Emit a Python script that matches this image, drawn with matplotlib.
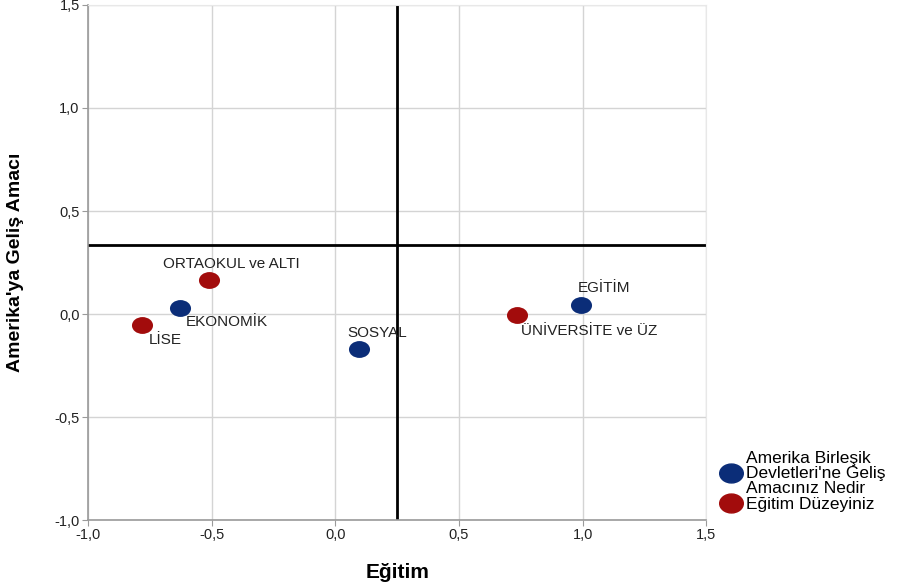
import matplotlib
matplotlib.use("Agg")
from matplotlib import pyplot as plt
from matplotlib.path import Path
from matplotlib.transforms import Affine2D
from matplotlib.lines import Line2D

plt.rcParams['font.family'] = ['Liberation Sans', 'DejaVu Sans']

# kategori noktalari
amac_labels = ["EKONOMİK", "SOSYAL", "EGİTİM"]
amac_x = [-0.627, 0.097, 0.995]
amac_y = [0.030, -0.170, 0.044]

egitim_labels = ["ORTAOKUL ve ALTI", "LİSE", "ÜNİVERSİTE ve ÜZ"]
egitim_x = [-0.510, -0.781, 0.736]
egitim_y = [0.165, -0.053, -0.005]

ref_x = 0.25
ref_y = 0.335

ticks = [-1.0, -0.5, 0.0, 0.5, 1.0, 1.5]
tick_labels = ["-1,0", "-0,5", "0,0", "0,5", "1,0", "1,5"]

blue = "#0b2d78"
red = "#a20c0c"

# oval isaret
ellipse = Path.unit_circle().transformed(Affine2D().scale(1.25, 1.0))

fig = plt.figure(figsize=(9.04, 5.85), dpi=100)
ax = fig.add_axes([0.0973, 0.111, 0.684, 0.8805])

ax.set_xlim(-1.0, 1.5)
ax.set_ylim(-1.0, 1.5)
ax.set_xticks(ticks)
ax.set_yticks(ticks)
ax.set_xticklabels(tick_labels, fontsize=10.5)
ax.set_yticklabels(tick_labels, fontsize=10.5)
ax.grid(True, color="#d4d4d4", linewidth=1)
ax.set_axisbelow(True)
for s in ["top", "right"]:
    ax.spines[s].set_color("#e8e8e8")
for s in ["left", "bottom"]:
    ax.spines[s].set_color("#9a9a9a")
    ax.spines[s].set_linewidth(1.2)
ax.tick_params(length=4, color="#9a9a9a", labelcolor="#222222", pad=2)

ax.axvline(ref_x, color="black", linewidth=2, zorder=2)
ax.axhline(ref_y, color="black", linewidth=2, zorder=2)

ax.scatter(amac_x, amac_y, s=230, marker=ellipse, color=blue, zorder=3, linewidths=0)
ax.scatter(egitim_x, egitim_y, s=230, marker=ellipse, color=red, zorder=3, linewidths=0)

# etiketler (piksel kaydirma)
offsets = {
    "EKONOMİK": (6, -14, "left"),
    "SOSYAL": (-12, 16, "left"),
    "EGİTİM": (-4, 17, "left"),
    "ORTAOKUL ve ALTI": (22, 16, "center"),
    "LİSE": (7, -15, "left"),
    "ÜNİVERSİTE ve ÜZ": (4, -16, "left"),
}
for lab, x, y in zip(amac_labels + egitim_labels, amac_x + egitim_x, amac_y + egitim_y):
    dx, dy, ha = offsets[lab]
    ax.annotate(lab, (x, y), xytext=(dx * 0.72, dy * 0.72), textcoords="offset points",
                ha=ha, va="center", fontsize=11, color="#222222", zorder=4)

ax.set_xlabel("Eğitim", fontsize=15, fontweight="bold", labelpad=15)
ax.set_ylabel("Amerika'ya Geliş Amacı", fontsize=14, fontweight="bold", labelpad=22)

handles = [
    Line2D([], [], marker=ellipse, linestyle="", markersize=17, color=blue),
    Line2D([], [], marker=ellipse, linestyle="", markersize=17, color=red),
]
leg = fig.legend(handles, ["Amerika Birleşik\nDevletleri'ne Geliş\nAmacınız Nedir", "Eğitim Düzeyiniz"],
                 loc="lower left", bbox_to_anchor=(0.787, 0.113), frameon=False, fontsize=12.5,
                 handletextpad=0.1, handlelength=1.5, labelspacing=0.05, borderaxespad=0)
for t in leg.get_texts():
    t.set_linespacing(1.0)

fig.savefig("out.png", dpi=100)
